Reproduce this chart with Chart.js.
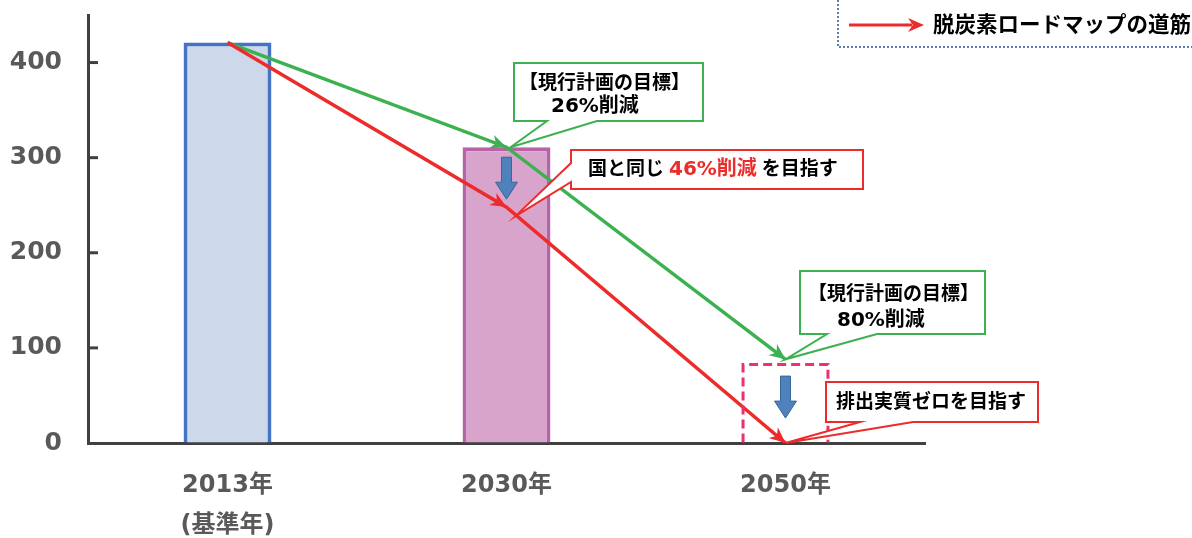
<!DOCTYPE html>
<html lang="ja">
<head>
<meta charset="utf-8">
<script src="https://cdn.jsdelivr.net/npm/chart.js@4.4.1/dist/chart.umd.min.js"></script>
<style>
html, body { margin: 0; padding: 0; background: #fff; }
#wrap { width: 1192px; height: 538px; position: relative; }
</style>
</head>
<body>
<div id="wrap"><canvas id="roadmap"></canvas></div>
<script>
// 年度
var years = ['2013年', '2030年', '2050年'];
var yearNotes = ['(基準年)', '', ''];
// 棒の値
var emissions = [421, 311, 84];
// 現行計画の線
var currentPlan = [421, 311, 88];
// 脱炭素ロードマップの線
var roadmap = [421, 248, 0];
// 目盛り
var yTicks = [0, 100, 200, 300, 400];
var yMax = 450;

var FONT = '"DejaVu Sans", "Noto Sans CJK JP", sans-serif';
var GREEN = '#3cb150';
var RED = '#ee2b2b';
var AXIS = '#404040';

function arrowHead(ctx, from, to, color) {
    var a = Math.atan2(to.y - from.y, to.x - from.x);
    var L = 16, W = 7;
    ctx.save();
    ctx.translate(to.x, to.y);
    ctx.rotate(a);
    ctx.beginPath();
    ctx.moveTo(0, 0);
    ctx.lineTo(-L, -W);
    ctx.lineTo(-L * 0.7, 0);
    ctx.lineTo(-L, W);
    ctx.closePath();
    ctx.fillStyle = color;
    ctx.fill();
    ctx.restore();
}

function blockArrow(ctx, cx, top) {
    var h = 42, hh = 17, sw = 5, hw = 11;
    ctx.beginPath();
    ctx.moveTo(cx - sw, top);
    ctx.lineTo(cx + sw, top);
    ctx.lineTo(cx + sw, top + h - hh);
    ctx.lineTo(cx + hw, top + h - hh);
    ctx.lineTo(cx, top + h);
    ctx.lineTo(cx - hw, top + h - hh);
    ctx.lineTo(cx - sw, top + h - hh);
    ctx.closePath();
    ctx.fillStyle = '#4f81bd';
    ctx.fill();
    ctx.strokeStyle = '#3a6797';
    ctx.lineWidth = 1;
    ctx.stroke();
}

function callout(ctx, box, side, a, b, tip, color) {
    var x = box.x, y = box.y, w = box.w, h = box.h;
    ctx.beginPath();
    ctx.moveTo(x, y);
    ctx.lineTo(x + w, y);
    ctx.lineTo(x + w, y + h);
    if (side === 'bottom') {
        ctx.lineTo(b, y + h);
        ctx.lineTo(tip.x, tip.y);
        ctx.lineTo(a, y + h);
        ctx.lineTo(x, y + h);
    } else {
        ctx.lineTo(x, y + h);
        ctx.lineTo(x, b);
        ctx.lineTo(tip.x, tip.y);
        ctx.lineTo(x, a);
    }
    ctx.closePath();
    ctx.fillStyle = '#fff';
    ctx.fill();
    ctx.strokeStyle = color;
    ctx.lineWidth = 2;
    ctx.lineJoin = 'miter';
    ctx.stroke();
}

function text(ctx, str, x, y, color, size) {
    ctx.font = 'bold ' + (size || 19) + 'px ' + FONT;
    ctx.fillStyle = color || '#000';
    ctx.textAlign = 'left';
    ctx.textBaseline = 'middle';
    ctx.fillText(str, x, y);
    return ctx.measureText(str).width;
}

var extras = {
    id: 'extras',
    afterDatasetsDraw: function (chart) {
        var ctx = chart.ctx;
        var area = chart.chartArea;
        var yScale = chart.scales.y;
        var bars = chart.getDatasetMeta(0).data;
        var green = chart.getDatasetMeta(1).data;
        var red = chart.getDatasetMeta(2).data;
        ctx.save();

        // 内向きの目盛り
        ctx.strokeStyle = AXIS;
        ctx.lineWidth = 3;
        yTicks.forEach(function (v) {
            if (v === 0) return;
            var py = yScale.getPixelForValue(v);
            ctx.beginPath();
            ctx.moveTo(area.left, py);
            ctx.lineTo(area.left + 10, py);
            ctx.stroke();
        });

        // 2050年の点線枠
        var b = bars[2];
        var l = b.x - b.width / 2 + 1.5, r = b.x + b.width / 2 - 1.5;
        ctx.setLineDash([9, 5]);
        ctx.strokeStyle = '#e9336f';
        ctx.lineWidth = 3;
        ctx.beginPath();
        ctx.moveTo(l, b.base);
        ctx.lineTo(l, b.y + 1.5);
        ctx.lineTo(r, b.y + 1.5);
        ctx.lineTo(r, b.base);
        ctx.stroke();
        ctx.setLineDash([]);

        // 下向き矢印
        blockArrow(ctx, bars[1].x, bars[1].y + 10);
        blockArrow(ctx, bars[2].x, bars[2].y + 13);

        // 線の矢じり
        arrowHead(ctx, green[0], green[1], GREEN);
        arrowHead(ctx, green[1], green[2], GREEN);
        arrowHead(ctx, red[0], red[1], RED);
        arrowHead(ctx, red[1], red[2], RED);

        // 吹き出し
        callout(ctx, {x: 514, y: 63, w: 189, h: 58}, 'bottom', 547, 597,
            {x: green[1].x + 4, y: green[1].y}, GREEN);
        text(ctx, '【現行計画の目標】', 519, 84);
        text(ctx, '26%削減', 551, 107, '#000', 20);

        callout(ctx, {x: 571, y: 150, w: 292, h: 39}, 'left', 163, 182,
            {x: red[1].x + 9, y: red[1].y + 9}, RED);
        var tx = 588;
        tx += text(ctx, '国と同じ', tx, 170) + 5;
        tx += text(ctx, '46%削減', tx, 170, RED, 20) + 5;
        text(ctx, 'を目指す', tx, 170);

        callout(ctx, {x: 800, y: 271, w: 185, h: 63}, 'bottom', 827, 877,
            {x: green[2].x, y: green[2].y}, GREEN);
        text(ctx, '【現行計画の目標】', 808, 295);
        text(ctx, '80%削減', 837, 321, '#000', 20);

        callout(ctx, {x: 826, y: 382, w: 212, h: 40}, 'bottom', 860, 913,
            {x: red[2].x, y: red[2].y}, RED);
        text(ctx, '排出実質ゼロを目指す', 836, 403);

        // 凡例
        ctx.setLineDash([2, 2]);
        ctx.strokeStyle = '#5b7fb5';
        ctx.lineWidth = 2;
        ctx.beginPath();
        ctx.moveTo(838, 0);
        ctx.lineTo(838, 47);
        ctx.lineTo(1192, 47);
        ctx.stroke();
        ctx.setLineDash([]);
        ctx.strokeStyle = RED;
        ctx.lineWidth = 3;
        ctx.beginPath();
        ctx.moveTo(849, 25);
        ctx.lineTo(912, 25);
        ctx.stroke();
        arrowHead(ctx, {x: 849, y: 25}, {x: 924, y: 25}, RED);
        text(ctx, '脱炭素ロードマップの道筋', 933, 26, '#000', 21.5);

        ctx.restore();
    }
};

var labels = years.map(function (y, i) {
    return yearNotes[i] ? [y, yearNotes[i]] : y;
});

var ctx = document.getElementById('roadmap').getContext('2d');
var roadmapChart = new Chart(ctx, {
    type: 'bar',
    data: {
        labels: labels,
        datasets: [{
            type: 'bar',
            data: emissions,
            backgroundColor: ['#cdd9ea', '#d9a4cb', 'rgba(0,0,0,0)'],
            borderColor: ['#4472c4', '#b565a7', 'rgba(0,0,0,0)'],
            borderWidth: 4,
            barPercentage: 0.315,
            categoryPercentage: 1,
            order: 3
        }, {
            type: 'line',
            data: currentPlan,
            borderColor: GREEN,
            borderWidth: 3.5,
            pointRadius: 0,
            fill: false,
            tension: 0,
            order: 2
        }, {
            type: 'line',
            data: roadmap,
            borderColor: RED,
            borderWidth: 3.5,
            pointRadius: 0,
            fill: false,
            tension: 0,
            order: 1
        }]
    },
    options: {
        responsive: true,
        maintainAspectRatio: false,
        animation: false,
        events: [],
        layout: { padding: { top: 15, right: 267, left: 0, bottom: 0 } },
        plugins: { legend: { display: false }, tooltip: { enabled: false } },
        scales: {
            x: {
                grid: { display: true, drawOnChartArea: false, drawTicks: false },
                border: { display: true, color: AXIS, width: 3 },
                ticks: {
                    color: '#595959',
                    padding: 23,
                    font: { family: FONT, weight: 'bold', size: 24, lineHeight: 1.667 }
                },
                afterFit: function (s) {
                    s.height = 95;
                    s.paddingLeft = 0;
                    s.paddingRight = 0;
                }
            },
            y: {
                min: 0,
                max: yMax,
                grid: { display: true, drawOnChartArea: false, drawTicks: false },
                border: { display: true, color: AXIS, width: 3 },
                ticks: {
                    color: '#595959',
                    padding: 26,
                    font: { family: FONT, weight: 'bold', size: 25, lineHeight: 1 }
                },
                afterBuildTicks: function (s) {
                    s.ticks = yTicks.map(function (v) { return { value: v }; });
                },
                afterFit: function (s) {
                    s.width = 88;
                    s.paddingTop = 0;
                    s.paddingBottom = 0;
                }
            }
        }
    },
    plugins: [extras]
});
</script>
</body>
</html>
